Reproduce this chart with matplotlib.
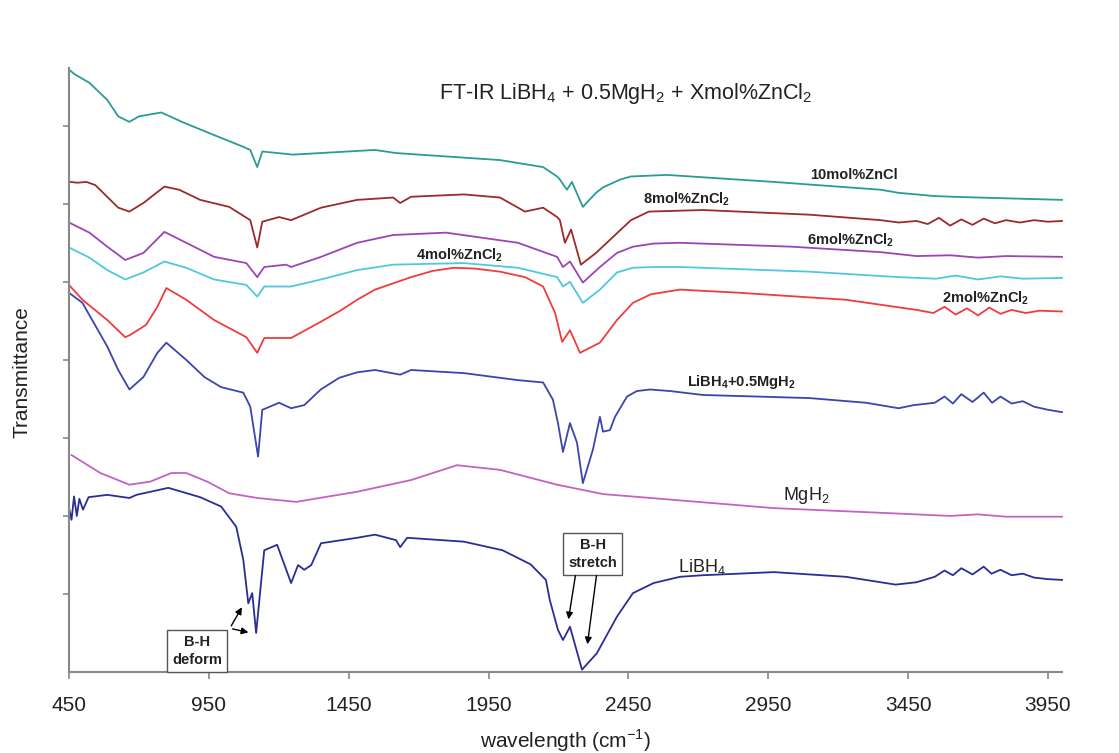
import numpy as np
import matplotlib
matplotlib.use('Agg')
import matplotlib.pyplot as plt

plt.rcParams['font.family'] = ['Liberation Sans', 'DejaVu Sans']
plt.rcParams['mathtext.fontset'] = 'custom'
plt.rcParams['mathtext.rm'] = 'Liberation Sans'
plt.rcParams['mathtext.bf'] = 'Liberation Sans:bold'

# wavenumber (cm-1) / offset transmittance
wn_10 = [450, 470, 523, 587, 626, 666, 700, 780, 860, 969, 1073, 1098, 1123, 1141, 1251,
         1544, 1619, 1991, 2145, 2195, 2205, 2230, 2248, 2287, 2334, 2359, 2420, 2459,
         2587, 2970, 3352, 3416, 3480, 3540, 3609, 3700, 3800, 3900, 4000]
t_10 = [7.72, 7.66, 7.55, 7.33, 7.12, 7.05, 7.12, 7.17, 7.04, 6.88, 6.73, 6.69, 6.47,
        6.67, 6.63, 6.69, 6.65, 6.56, 6.47, 6.35, 6.31, 6.18, 6.28, 5.96, 6.14, 6.21,
        6.31, 6.35, 6.37, 6.28, 6.18, 6.14, 6.12, 6.10, 6.09, 6.08, 6.07, 6.06, 6.05]

wn_8 = [454, 480, 512, 544, 626, 666, 716, 791, 844, 919, 1023, 1098, 1123, 1141, 1201,
        1244, 1351, 1480, 1609, 1634, 1673, 1862, 1991, 2080, 2145, 2195, 2205, 2223,
        2245, 2280, 2334, 2423, 2459, 2523, 2716, 3098, 3352, 3416, 3480, 3520, 3560,
        3600, 3640, 3680, 3720, 3760, 3800, 3850, 3900, 3950, 4000]
t_8 = [6.28, 6.27, 6.28, 6.24, 5.95, 5.90, 6.01, 6.22, 6.18, 6.05, 5.96, 5.79, 5.44, 5.77,
       5.83, 5.79, 5.95, 6.05, 6.08, 6.01, 6.09, 6.12, 6.08, 5.90, 5.95, 5.83, 5.79, 5.50,
       5.67, 5.22, 5.37, 5.67, 5.79, 5.90, 5.92, 5.86, 5.79, 5.76, 5.78, 5.74, 5.82,
       5.72, 5.80, 5.73, 5.81, 5.75, 5.79, 5.76, 5.79, 5.77, 5.78]

wn_6 = [450, 523, 587, 651, 716, 791, 869, 969, 1084, 1123, 1148, 1226, 1244, 1351, 1480,
        1609, 1798, 2055, 2195, 2216, 2241, 2287, 2348, 2409, 2466, 2540, 2634, 3034,
        3352, 3480, 3600, 3700, 3800, 4000]
t_6 = [5.76, 5.63, 5.45, 5.28, 5.37, 5.64, 5.50, 5.32, 5.24, 5.06, 5.19, 5.22, 5.19, 5.32,
       5.50, 5.60, 5.63, 5.50, 5.32, 5.19, 5.26, 4.99, 5.19, 5.37, 5.45, 5.49, 5.50, 5.45,
       5.38, 5.33, 5.34, 5.31, 5.33, 5.32]

wn_4 = [450, 523, 587, 651, 716, 791, 869, 969, 1084, 1123, 1148, 1244, 1351, 1480, 1609,
        1862, 2055, 2195, 2216, 2241, 2287, 2348, 2409, 2466, 2540, 2634, 3098, 3416,
        3550, 3620, 3700, 3780, 3860, 4000]
t_4 = [5.44, 5.31, 5.15, 5.03, 5.12, 5.26, 5.18, 5.03, 4.96, 4.81, 4.94, 4.94, 5.03, 5.15,
       5.22, 5.24, 5.18, 5.06, 4.94, 5.00, 4.73, 4.90, 5.12, 5.18, 5.19, 5.19, 5.13, 5.06,
       5.04, 5.08, 5.03, 5.07, 5.04, 5.05]

wn_2 = [450, 498, 587, 651, 669, 726, 766, 798, 869, 969, 1084, 1123, 1148, 1244, 1351,
        1420, 1480, 1544, 1673, 1750, 1827, 1900, 1991, 2080, 2145, 2188, 2213, 2241,
        2277, 2348, 2409, 2466, 2530, 2634, 2845, 3227, 3480, 3540, 3580, 3620, 3660,
        3700, 3740, 3780, 3820, 3870, 3920, 4000]
t_2 = [4.96, 4.77, 4.51, 4.29, 4.32, 4.45, 4.68, 4.92, 4.77, 4.51, 4.29, 4.09, 4.28, 4.28,
       4.49, 4.63, 4.77, 4.90, 5.06, 5.14, 5.18, 5.17, 5.13, 5.06, 4.94, 4.60, 4.23, 4.38,
       4.09, 4.22, 4.51, 4.73, 4.84, 4.90, 4.86, 4.77, 4.64, 4.60, 4.68, 4.58, 4.66,
       4.57, 4.67, 4.59, 4.64, 4.60, 4.63, 4.62]

wn_mix = [450, 498, 587, 626, 666, 716, 766, 798, 869, 934, 994, 1073, 1098, 1126, 1141,
          1201, 1244, 1291, 1350, 1416, 1480, 1544, 1634, 1673, 1862, 2055, 2145, 2180,
          2198, 2216, 2241, 2266, 2287, 2323, 2348, 2359, 2384, 2402, 2445, 2480, 2527,
          2600, 2716, 3098, 3300, 3416, 3470, 3545, 3580, 3610, 3640, 3680, 3720, 3750,
          3780, 3820, 3860, 3900, 3950, 4000]
t_mix = [4.86, 4.73, 4.17, 3.87, 3.62, 3.78, 4.09, 4.22, 4.00, 3.78, 3.65, 3.58, 3.40, 2.76,
         3.36, 3.45, 3.38, 3.42, 3.62, 3.77, 3.84, 3.87, 3.81, 3.87, 3.83, 3.74, 3.71, 3.49,
         3.19, 2.82, 3.19, 2.94, 2.42, 2.85, 3.27, 3.08, 3.10, 3.27, 3.53, 3.60, 3.62,
         3.60, 3.55, 3.51, 3.45, 3.38, 3.42, 3.45, 3.53, 3.44, 3.56, 3.46, 3.58, 3.45,
         3.53, 3.44, 3.47, 3.40, 3.36, 3.33]

wn_mgh2 = [459, 562, 666, 741, 816, 869, 944, 1023, 1123, 1262, 1480, 1673, 1837, 1991,
           2195, 2359, 2970, 3352, 3600, 3700, 3800, 4000]
t_mgh2 = [2.78, 2.55, 2.40, 2.44, 2.55, 2.55, 2.44, 2.29, 2.23, 2.18, 2.31, 2.46, 2.65, 2.59,
          2.40, 2.28, 2.10, 2.04, 2.00, 2.02, 1.99, 1.99]

wn_libh4 = [450, 459, 468, 478, 487, 500, 520, 587, 666, 691, 805, 919, 994, 1048, 1073,
            1091, 1105, 1119, 1148, 1194, 1244, 1269, 1291, 1316, 1351, 1480, 1544, 1619,
            1634, 1659, 1862, 2000, 2100, 2155, 2169, 2198, 2216, 2241, 2284, 2337, 2409,
            2466, 2540, 2634, 2716, 2970, 3227, 3405, 3480, 3545, 3580, 3610, 3640, 3680,
            3720, 3748, 3780, 3820, 3860, 3900, 3950, 4000]
t_libh4 = [2.10, 1.95, 2.25, 2.00, 2.22, 2.08, 2.24, 2.27, 2.23, 2.27, 2.36, 2.24, 2.12,
           1.86, 1.44, 0.88, 1.01, 0.50, 1.56, 1.63, 1.14, 1.37, 1.31, 1.37, 1.65, 1.72,
           1.76, 1.69, 1.60, 1.72, 1.67, 1.56, 1.38, 1.18, 0.92, 0.54, 0.41, 0.58, 0.03,
           0.24, 0.71, 1.01, 1.14, 1.22, 1.24, 1.28, 1.22, 1.12, 1.15, 1.22, 1.30, 1.24,
           1.33, 1.25, 1.35, 1.26, 1.31, 1.24, 1.26, 1.21, 1.19, 1.18]

series = [
    (wn_10, t_10, '#2a9b98'),
    (wn_8, t_8, '#9b2b2b'),
    (wn_6, t_6, '#9d44b5'),
    (wn_4, t_4, '#4ec8de'),
    (wn_2, t_2, '#f03c3c'),
    (wn_mix, t_mix, '#3b45ad'),
    (wn_mgh2, t_mgh2, '#c462c0'),
    (wn_libh4, t_libh4, '#2a2d96'),
]

W, H = 1119, 753
fig = plt.figure(figsize=(W / 100, H / 100), dpi=100)
ax = fig.add_axes([69 / W, 81 / H, (1062 - 69) / W, (672 - 68) / H])

for wn, t, c in series:
    ax.plot(wn, t, color=c, linewidth=1.3, clip_on=False, solid_joinstyle='round')

ax.set_xlim(450, 4000)
ax.set_ylim(0, 7.74)
ax.set_xticks(np.arange(450, 4000, 500))
ax.set_yticks(np.arange(1, 8, 1))
ax.set_yticklabels([])
ax.tick_params(axis='x', direction='out', length=5, width=1.2, color='#888888',
               labelsize=15, pad=12, labelcolor='#222222')
ax.tick_params(axis='y', direction='out', length=4, width=1.2, color='#888888')
for s in ['top', 'right']:
    ax.spines[s].set_visible(False)
for s in ['left', 'bottom']:
    ax.spines[s].set_color('#888888')
    ax.spines[s].set_linewidth(1.5)

ax.set_xlabel('wavelength (cm$^{-1}$)', fontsize=15, labelpad=9, color='#222222')
fig.text(22 / W, 1 - 372 / H, 'Transmittance', rotation=90, fontsize=15,
         ha='center', va='center', color='#222222')

def px(x, y):
    return x / W, 1 - y / H

fig.text(*px(626, 94), 'FT-IR LiBH$_4$ + 0.5MgH$_2$ + Xmol%ZnCl$_2$', fontsize=15.5,
         ha='center', va='center', color='#222222')

lab = dict(fontsize=10.5, fontweight='bold', color='#222222', ha='left', va='center')
fig.text(*px(810, 175), '10mol%ZnCl', **lab)
fig.text(*px(643, 199), '8mol%ZnCl$_\\mathbf{2}$', **lab)
fig.text(*px(807, 240), '6mol%ZnCl$_\\mathbf{2}$', **lab)
fig.text(*px(416, 255), '4mol%ZnCl$_\\mathbf{2}$', **lab)
fig.text(*px(942, 298), '2mol%ZnCl$_\\mathbf{2}$', **lab)
fig.text(*px(687, 382), 'LiBH$_\\mathbf{4}$+0.5MgH$_\\mathbf{2}$', **lab)
fig.text(*px(783, 495), 'MgH$_2$', fontsize=13, color='#222222', ha='left', va='center')
fig.text(*px(678, 567), 'LiBH$_4$', fontsize=13, color='#222222', ha='left', va='center')

box = dict(boxstyle='square,pad=0.35', fc='white', ec='#555555', lw=1.0)
ax.text(909, 0.27, 'B-H\ndeform', fontsize=10.5, fontweight='bold', ha='center',
        va='center', bbox=box, linespacing=1.35, color='#222222')
ax.text(2323, 1.51, 'B-H\nstretch', fontsize=10.5, fontweight='bold', ha='center',
        va='center', bbox=box, linespacing=1.35, color='#222222')

arr = dict(arrowstyle='-|>', color='black', lw=1.0, mutation_scale=10)
ax.annotate('', xy=(1073, 0.86), xytext=(1025, 0.56), arrowprops=arr)
ax.annotate('', xy=(1101, 0.50), xytext=(1025, 0.56), arrowprops=arr)
ax.annotate('', xy=(2234, 0.64), xytext=(2262, 1.27), arrowprops=arr)
ax.annotate('', xy=(2302, 0.32), xytext=(2337, 1.27), arrowprops=arr)

fig.savefig('out.png', dpi=100)
